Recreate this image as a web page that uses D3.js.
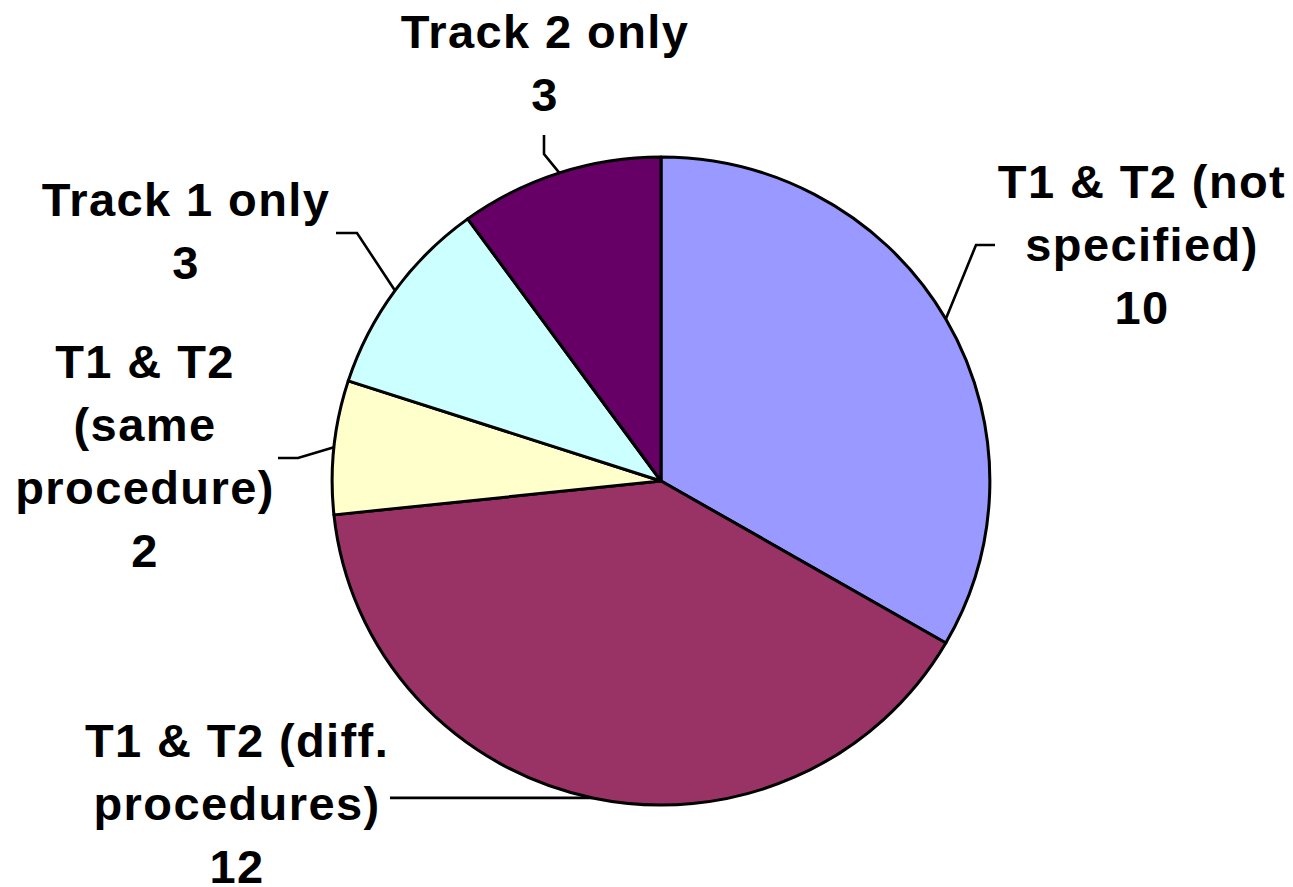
<!DOCTYPE html>
<html>
<head>
<meta charset="utf-8">
<title>Pie chart</title>
<script src="https://cdn.jsdelivr.net/npm/d3@7"></script>
<style>
  body { margin: 0; background: #fff; }
</style>
</head>
<body>
<script>
// data
var categories = ["T1 & T2 (not\nspecified)", "T1 & T2 (diff.\nprocedures)", "T1 & T2\n(same\nprocedure)", "Track 1 only", "Track 2 only"];
var values = [10, 12, 2, 3, 3];
var colors = ["#9999FF", "#993366", "#FFFFCC", "#CCFFFF", "#660066"];

// label placement (layout only)
var labelPos = [
  { x: 1142, y: 198, elbow: [976, 245], end: [995, 245] },
  { x: 237, y: 757, elbow: null, end: [390, 0] },
  { x: 145, y: 378, elbow: [298, 458], end: [278, 458] },
  { x: 186, y: 216, elbow: [357, 233], end: [336, 233] },
  { x: 545, y: 48, elbow: [544, 154], end: [544, 135] }
];

var w = 1293, h = 887;
var cx = 661, cy = 481, r = 324, sx = 1.015; // pie is drawn slightly wider than tall
var lineH = 63;

var svg = d3.select("body").append("svg")
  .attr("width", w)
  .attr("height", h);

var pie = d3.pie().sort(null).value(function (d) { return d; });
var arcs = pie(values);
var arc = d3.arc().innerRadius(0).outerRadius(r);
var edge = d3.arc().innerRadius(r).outerRadius(r);

var g = svg.append("g")
  .attr("transform", "translate(" + cx + "," + cy + ") scale(" + sx + ",1)");

g.selectAll("path")
  .data(arcs)
  .enter()
  .append("path")
  .attr("d", arc)
  .attr("fill", function (d, i) { return colors[i]; })
  .attr("stroke", "#000")
  .attr("stroke-width", 3)
  .attr("stroke-linejoin", "round");

// leader lines
svg.selectAll("polyline")
  .data(arcs)
  .enter()
  .append("polyline")
  .attr("points", function (d, i) {
    var c = edge.centroid(d);
    var p0 = [cx + c[0] * sx, cy + c[1]];
    var L = labelPos[i];
    var pts = [p0];
    if (L.elbow) { pts.push(L.elbow); pts.push(L.end); }
    else { pts.push([L.end[0], p0[1]]); }
    return pts.map(function (p) { return p[0] + "," + p[1]; }).join(" ");
  })
  .attr("fill", "none")
  .attr("stroke", "#000")
  .attr("stroke-width", 2.6);

// labels
var labels = svg.selectAll("text.lbl")
  .data(arcs)
  .enter()
  .append("text")
  .attr("class", "lbl")
  .attr("text-anchor", "middle")
  .attr("font-family", "'Liberation Sans', Arial, Helvetica, sans-serif")
  .attr("font-weight", "bold")
  .attr("font-size", 47)
  .attr("letter-spacing", 1.4)
  .attr("fill", "#000");

labels.each(function (d, i) {
  var lines = categories[i].split("\n").concat([String(values[i])]);
  var t = d3.select(this);
  lines.forEach(function (s, k) {
    t.append("tspan")
      .attr("x", labelPos[i].x)
      .attr("y", labelPos[i].y + k * lineH)
      .text(s);
  });
});
</script>
</body>
</html>
